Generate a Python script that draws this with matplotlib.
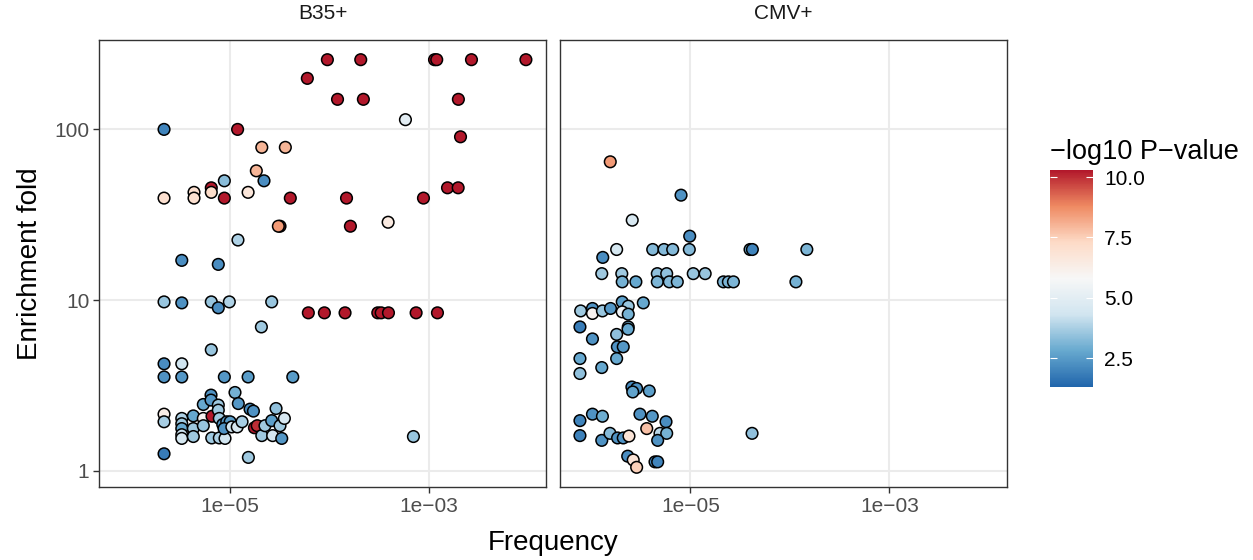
import matplotlib
matplotlib.use('Agg')
import matplotlib.pyplot as plt
from matplotlib.colors import LinearSegmentedColormap

plt.rcParams['font.family'] = ['Liberation Sans', 'DejaVu Sans']

# B35+ panel: frequency, enrichment fold, -log10 p-value
b35_freq = [9.57e-5, 2.07e-4, 1.14e-3, 1.20e-3, 2.68e-3, 9.44e-3, 6.02e-5, 1.21e-4, 2.20e-4, 1.98e-3,
            5.82e-4, 2.19e-6, 1.20e-5, 2.08e-3, 2.10e-5, 3.62e-5, 1.85e-5, 8.83e-6, 2.21e-5, 6.53e-6,
            6.53e-6, 4.38e-6, 4.38e-6, 1.53e-5, 1.54e-3, 1.97e-3, 2.19e-6, 8.83e-6, 4.06e-5, 1.49e-4,
            8.83e-4, 3.20e-5, 3.08e-5, 1.63e-4, 3.90e-4, 1.21e-5, 3.30e-6, 7.68e-6, 2.19e-6, 3.30e-6,
            6.53e-6, 7.68e-6, 9.91e-6, 2.64e-5, 2.08e-5, 6.53e-6, 2.19e-6, 3.30e-6,
            6.16e-5, 8.93e-5, 1.44e-4, 3.07e-4, 3.32e-4, 3.93e-4, 7.45e-4, 1.22e-3,
            2.19e-6, 3.30e-6, 8.83e-6, 1.53e-5, 4.30e-5, 7.00e-4,
            2.19e-6, 2.19e-6, 2.19e-6, 3.30e-6, 3.30e-6, 3.30e-6, 3.30e-6, 3.30e-6, 4.31e-6, 4.31e-6,
            4.31e-6, 5.43e-6, 5.43e-6, 5.43e-6, 6.49e-6, 6.49e-6, 6.64e-6, 7.68e-6, 7.68e-6, 7.86e-6,
            6.60e-6, 7.86e-6, 8.97e-6, 8.51e-6, 9.33e-6, 1.01e-5, 8.77e-6, 1.05e-5, 1.19e-5, 1.33e-5,
            1.13e-5, 1.22e-5, 1.60e-5, 1.73e-5, 1.54e-5, 1.77e-5, 1.89e-5, 2.10e-5, 2.26e-5, 2.64e-5,
            2.92e-5, 2.70e-5, 3.20e-5, 3.54e-5, 3.33e-5]
b35_fold = [256, 256, 256, 256, 256, 256, 199, 150, 150, 150,
            114, 100, 100, 90.5, 78.5, 78.5, 57.2, 50.0, 50.0, 45.5,
            42.8, 42.8, 39.6, 42.8, 45.5, 45.5, 39.6, 39.6, 39.6, 39.6,
            39.6, 27.1, 27.1, 27.1, 28.6, 22.5, 17.1, 16.2, 9.77, 9.64,
            9.77, 9.02, 9.77, 9.77, 6.97, 5.12, 4.24, 4.24,
            8.43, 8.43, 8.43, 8.43, 8.43, 8.43, 8.43, 8.43,
            3.55, 3.55, 3.55, 3.55, 3.55, 1.59,
            2.15, 1.94, 1.26, 2.03, 1.89, 1.77, 1.63, 1.55, 2.10, 1.77,
            1.59, 2.03, 1.84, 2.45, 2.78, 2.60, 2.09, 2.43, 2.27, 2.03,
            1.56, 1.56, 1.55, 1.87, 1.94, 1.94, 1.77, 1.81, 1.81, 1.94,
            2.88, 2.48, 2.30, 2.24, 1.20, 1.79, 1.84, 1.61, 1.84, 1.97,
            2.32, 1.61, 1.84, 2.03, 1.55]
b35_logp = [10.3, 10.3, 10.3, 10.3, 10.3, 10.3, 10.3, 10.3, 10.3, 10.3,
            5.0, 2.0, 10.3, 10.3, 8.0, 8.0, 8.0, 3.3, 2.2, 10.3,
            7.2, 7.0, 7.0, 6.7, 10.3, 10.3, 7.0, 10.3, 10.3, 10.3,
            10.3, 10.3, 8.5, 10.3, 6.5, 3.8, 2.2, 2.2, 3.5, 2.3,
            3.5, 2.2, 3.8, 3.5, 3.6, 3.5, 2.2, 4.3,
            10.3, 10.3, 10.3, 10.3, 10.3, 10.3, 10.3, 10.3,
            2.3, 2.4, 2.4, 2.5, 2.5, 3.5,
            6.3, 3.7, 1.8, 3.8, 3.6, 2.8, 4.2, 4.5, 2.8, 3.6,
            3.6, 6.0, 3.5, 2.8, 2.3, 2.4, 10.3, 3.6, 3.6, 3.6,
            3.6, 3.8, 4.3, 2.4, 2.4, 2.5, 2.3, 4.3, 4.6, 3.7,
            3.0, 2.4, 2.2, 2.3, 3.6, 10.3, 10.0, 3.6, 3.6, 2.6,
            3.4, 4.4, 3.6, 4.6, 2.4]

# CMV+ panel
cmv_freq = [1.57e-6, 8.07e-6, 2.61e-6, 9.86e-6, 1.82e-6, 1.32e-6, 4.19e-6, 5.44e-6, 6.65e-6, 9.77e-6,
            3.98e-5, 4.20e-5, 1.48e-4, 1.29e-6, 2.05e-6, 2.07e-6, 2.84e-6, 4.66e-6, 5.79e-6, 4.66e-6,
            6.15e-6, 7.40e-6, 1.07e-5, 1.41e-5, 2.15e-5, 2.41e-5, 2.71e-5, 1.15e-4, 7.92e-7, 1.04e-6,
            1.04e-6, 1.31e-6, 1.58e-6, 2.07e-6, 2.38e-6, 2.07e-6, 2.38e-6, 3.37e-6, 7.79e-7, 2.38e-6,
            1.04e-6, 1.82e-6, 2.37e-6, 1.85e-6, 2.12e-6, 7.79e-7, 7.79e-7, 1.29e-6, 1.82e-6, 2.59e-6,
            2.89e-6, 2.64e-6, 3.87e-6, 7.79e-7, 1.04e-6, 1.31e-6, 3.12e-6, 4.15e-6, 5.70e-6, 3.65e-6,
            7.79e-7, 1.29e-6, 1.56e-6, 1.86e-6, 2.12e-6, 2.42e-6, 4.96e-6, 5.79e-6, 4.70e-6, 2.35e-6,
            2.67e-6, 2.89e-6, 4.42e-6, 4.70e-6, 4.17e-5]
cmv_fold = [64.6, 41.2, 29.4, 23.7, 19.8, 17.8, 19.8, 19.8, 19.8, 19.8,
            19.8, 19.8, 19.8, 14.3, 14.3, 12.8, 12.8, 14.3, 14.3, 12.8,
            12.8, 12.8, 14.3, 14.3, 12.8, 12.8, 12.8, 12.8, 8.65, 8.94,
            8.36, 8.65, 8.94, 9.77, 9.22, 8.54, 8.28, 9.64, 6.97, 6.97,
            5.93, 6.30, 6.76, 5.33, 5.33, 4.55, 3.72, 4.03, 4.55, 3.10,
            3.04, 2.90, 2.94, 1.97, 2.15, 2.09, 2.15, 2.09, 1.94, 1.77,
            1.61, 1.51, 1.66, 1.56, 1.56, 1.60, 1.66, 1.66, 1.51, 1.22,
            1.16, 1.05, 1.13, 1.13, 1.66]
cmv_logp = [8.5, 2.3, 4.6, 2.2, 4.5, 2.2, 3.2, 3.2, 3.2, 3.2,
            3.0, 2.0, 3.1, 3.6, 3.6, 3.0, 2.8, 3.4, 3.4, 3.1,
            3.2, 3.1, 3.5, 3.5, 3.1, 3.1, 3.1, 3.0, 3.6, 2.3,
            6.0, 3.5, 2.4, 2.6, 3.5, 5.5, 3.0, 2.8, 1.8, 3.0,
            2.3, 3.4, 2.8, 2.3, 2.4, 2.8, 3.4, 2.8, 2.8, 2.1,
            2.3, 2.7, 2.6, 2.0, 2.3, 2.9, 2.3, 2.4, 2.2, 7.8,
            1.9, 2.3, 3.2, 2.3, 2.3, 6.8, 4.0, 3.0, 2.3, 2.2,
            6.8, 7.5, 2.2, 2.0, 3.4]

panels = [('B35+', b35_freq, b35_fold, b35_logp), ('CMV+', cmv_freq, cmv_fold, cmv_logp)]
pmin, pmax = 1.3, 10.3

# brewer RdBu (7 classes), low = blue, high = red
rdbu = LinearSegmentedColormap.from_list(
    'rdbu', ['#2166AC', '#67A9CF', '#D1E5F0', '#F7F7F7', '#FDDBC7', '#EF8A62', '#B2182B'])

fig = plt.figure(figsize=(12.53, 5.6), dpi=100)
axes_pos = [[0.079, 0.1304, 0.3567, 0.798], [0.4466, 0.1304, 0.3567, 0.798]]

for i, (name, fx, fy, fp) in enumerate(panels):
    ax = fig.add_axes(axes_pos[i])
    ax.set_xscale('log')
    ax.set_yscale('log')
    ax.set_xlim(10 ** -6.313, 10 ** -1.824)
    ax.set_ylim(10 ** -0.094, 10 ** 2.523)
    ax.grid(True, which='major', color='#EBEBEB', linewidth=1.5)
    ax.set_axisbelow(True)
    sc = ax.scatter(fx, fy, c=fp, cmap=rdbu, vmin=pmin, vmax=pmax,
                    s=70, edgecolors='black', linewidths=1.1, zorder=3)
    ax.set_xticks([1e-5, 1e-3])
    ax.set_xticklabels(['1e\u221205', '1e\u221203'])
    ax.minorticks_off()
    ax.tick_params(axis='both', which='major', direction='out', length=4, width=1,
                   color='#333333', labelcolor='#4D4D4D', labelsize=15, pad=3)
    ax.set_yticks([1, 10, 100])
    if i == 0:
        ax.set_yticklabels(['1', '10', '100'])
    else:
        ax.tick_params(axis='y', left=False, labelleft=False)
    for sp in ax.spines.values():
        sp.set_color('#333333')
        sp.set_linewidth(1.0)
    x0, _, w, _ = axes_pos[i]
    fig.text(x0 + w / 2, 0.976, name, ha='center', va='center', fontsize=15, color='#1A1A1A')

fig.text(0.4415, 0.03, 'Frequency', ha='center', va='center', fontsize=20, color='black')
fig.text(0.024, 0.53, 'Enrichment fold', ha='center', va='center', rotation=90,
         fontsize=20, color='black')

cax = fig.add_axes([0.838, 0.309, 0.0343, 0.3875])
cb = fig.colorbar(sc, cax=cax)
cb.outline.set_visible(False)
cb.set_ticks([2.5, 5.0, 7.5, 10.0])
cb.set_ticklabels(['2.5', '5.0', '7.5', '10.0'])
cax.tick_params(which='both', direction='in', length=5, width=0.8, color='white',
                left=True, right=True, labelsize=15, labelcolor='black', pad=8)
cax.minorticks_off()
fig.text(0.838, 0.728, '\u2212log10 P\u2212value', ha='left', va='center', fontsize=19.5)

fig.savefig('out.png', dpi=100)
